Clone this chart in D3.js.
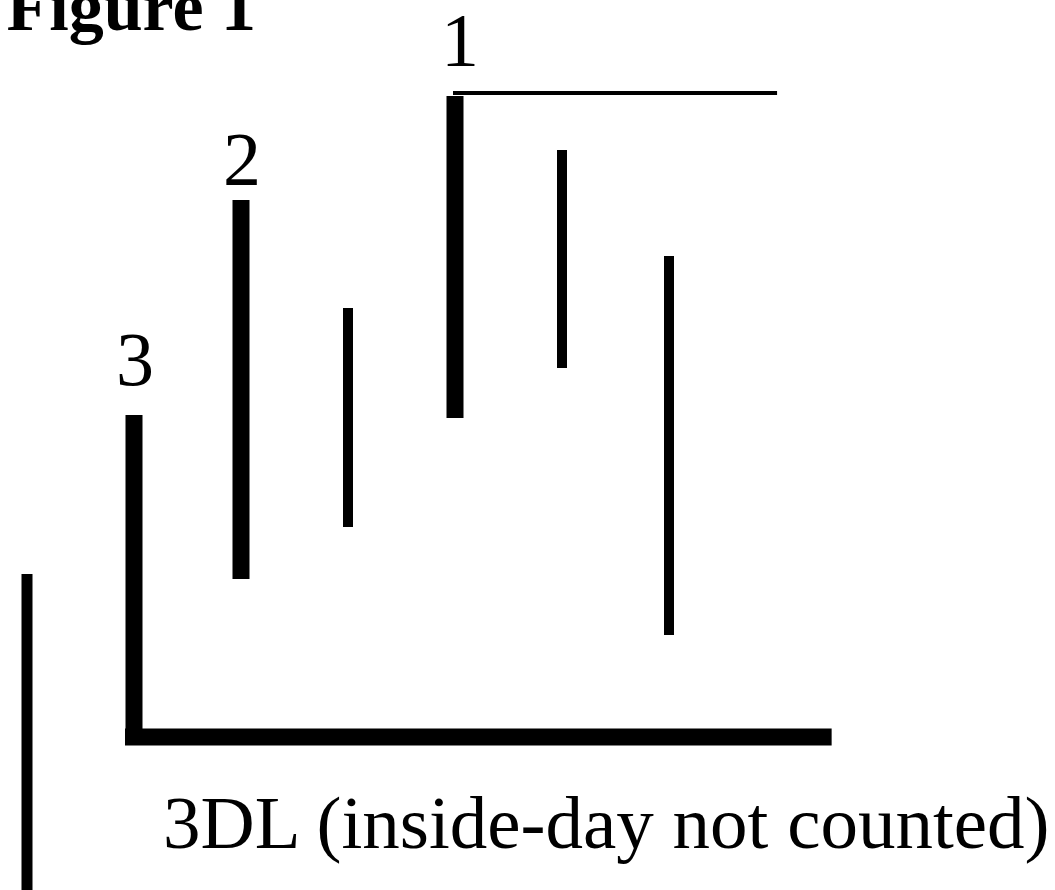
<!DOCTYPE html>
<html>
<head>
<meta charset="utf-8">
<script src="https://cdn.jsdelivr.net/npm/d3@7"></script>
<style>
  html, body { margin: 0; padding: 0; background: #fff; }
  svg { display: block; }
</style>
</head>
<body>
<svg id="chart" width="1055" height="890"></svg>
<script>
// ---- data (price units) ----
const days   = [0, 1, 2, 3, 4, 5, 6];
const highs  = [31.6, 47.5, 69.0, 58.2, 79.4, 74.0, 63.4];
const lows   = [-3.0, 15.3, 31.1, 36.3, 47.2, 52.2, 25.5];
const counted = [false, true, true, false, true, false, false]; // bars counted in the 3DL
const countLabels = ["", "3", "2", "", "1", "", ""];
// reference lines: [fromDay, toDay, price]
const lowLine  = [1, 7.52, 15.3];
const highLine = [4, 7.01, 79.4];
const title = "Figure 1";
const caption = "3DL (inside-day not counted)";

// ---- drawing ----
const svg = d3.select("#chart");
const x = d3.scaleLinear().domain([0, 6]).range([27, 669]);
const y = d3.scaleLinear().domain([0, 80]).range([890, 90]);

const ink = "#000";
const serif = "'Liberation Serif', 'Times New Roman', serif";

// Reference lines
svg.append("line")
  .attr("x1", x(lowLine[0]) - 9).attr("x2", x(lowLine[1]))
  .attr("y1", y(lowLine[2])).attr("y2", y(lowLine[2]))
  .attr("stroke", ink).attr("stroke-width", 17);

svg.append("line")
  .attr("x1", x(highLine[0]) - 2).attr("x2", x(highLine[1]))
  .attr("y1", y(highLine[2]) - 3).attr("y2", y(highLine[2]) - 3)
  .attr("stroke", ink).attr("stroke-width", 4);

// Price bars
const bars = days.map((d, i) => ({ d, hi: highs[i], lo: lows[i], thick: counted[i], label: countLabels[i] }));

svg.selectAll("line.bar")
  .data(bars)
  .join("line")
  .attr("class", "bar")
  .attr("x1", b => x(b.d)).attr("x2", b => x(b.d))
  .attr("y1", b => y(b.hi)).attr("y2", b => y(b.lo))
  .attr("stroke", ink)
  .attr("stroke-width", b => b.thick ? 17 : (b.d === 0 ? 11 : 10));

// Count labels
const labelGap = { "3": 30, "2": 15, "1": 30 };
svg.selectAll("text.count")
  .data(bars.filter(b => b.label))
  .join("text")
  .attr("class", "count")
  .attr("x", b => x(b.d) + (b.label === "1" ? 5 : 1))
  .attr("y", b => y(b.hi) - labelGap[b.label])
  .attr("text-anchor", "middle")
  .attr("font-family", serif)
  .attr("font-size", 76)
  .attr("fill", ink)
  .text(b => b.label);

// Title
svg.append("text")
  .attr("x", 256).attr("y", 30)
  .attr("text-anchor", "end")
  .attr("font-family", serif)
  .attr("font-weight", "bold")
  .attr("font-size", 70)
  .attr("fill", ink)
  .text(title);

// Caption
svg.append("text")
  .attr("x", 163).attr("y", 848)
  .attr("font-family", serif)
  .attr("font-size", 75)
  .attr("fill", ink)
  .text(caption);
</script>
</body>
</html>
